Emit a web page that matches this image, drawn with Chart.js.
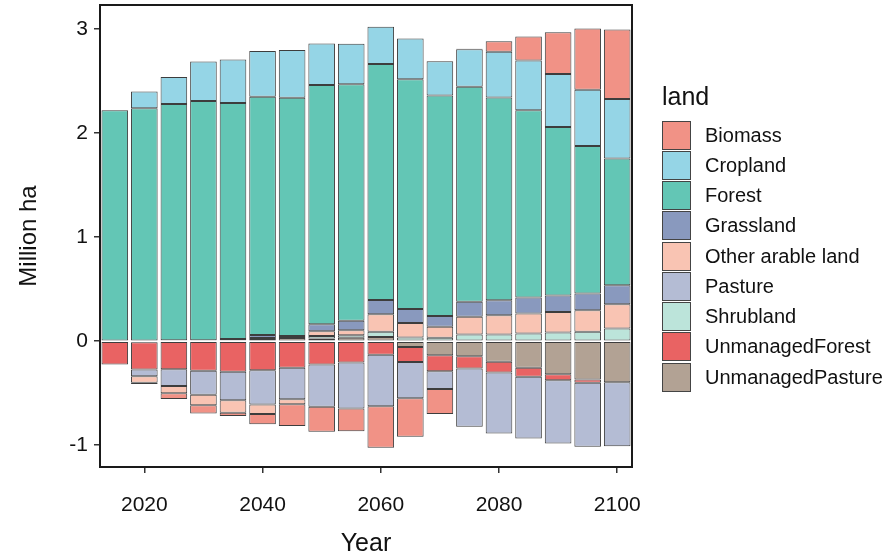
<!DOCTYPE html>
<html lang="en">
<head>
    <meta charset="UTF-8">
    <title>Land use change</title>
    <script src="https://cdn.jsdelivr.net/npm/chart.js"></script>
    <style>
        body {
            margin: 0;
            background: #fff;
            font-family: 'Liberation Sans', Arial, sans-serif;
        }
        #wrap {
            position: relative;
            width: 892px;
            height: 559px;
        }
        #legend {
            position: absolute;
            left: 662px;
            top: 82px;
            color: #111;
        }
        #legend .title {
            font-size: 25px;
            margin-bottom: 9px;
        }
        #legend .item {
            display: flex;
            align-items: center;
            height: 30.25px;
            font-size: 20px;
        }
        #legend .box {
            width: 27px;
            height: 27px;
            border: 1px solid #444;
            margin-right: 14px;
        }
    </style>
</head>
<body>
<div id="wrap">
    <canvas id="chart" width="892" height="559"></canvas>
    <div id="legend"><div class="title">land</div></div>
</div>

<script>
    // years on the x axis
    const years = [2015, 2020, 2025, 2030, 2035, 2040, 2045, 2050, 2055,
                   2060, 2065, 2070, 2075, 2080, 2085, 2090, 2095, 2100];
    const yearTicks = [2020, 2040, 2060, 2080, 2100];
    const yTicks = [-1, 0, 1, 2, 3];

    // land categories (legend order)
    const lands = ["Biomass", "Cropland", "Forest", "Grassland", "Other arable land",
                   "Pasture", "Shrubland", "UnmanagedForest", "UnmanagedPasture"];

    // values in million ha
    const biomass = [0, -0.013, -0.055, -0.08, -0.03, -0.10, -0.21, -0.24, -0.22,
                     -0.40, -0.37, -0.24, 0.005, 0.10, 0.23, 0.40, 0.59, 0.67];
    const cropland = [0, 0.16, 0.26, 0.38, 0.42, 0.44, 0.46, 0.40, 0.39,
                      0.36, 0.39, 0.33, 0.36, 0.44, 0.48, 0.51, 0.54, 0.57];
    const forest = [2.22, 2.24, 2.27, 2.30, 2.27, 2.29, 2.29, 2.30, 2.275,
                    2.27, 2.21, 2.12, 2.07, 1.95, 1.80, 1.62, 1.42, 1.22];
    const grassland = [0, 0, 0, 0, 0.01, 0.03, 0.02, 0.067, 0.09,
                       0.135, 0.135, 0.105, 0.144, 0.144, 0.154, 0.16, 0.16, 0.182];
    const otherArable = [0, -0.063, -0.07, -0.10, -0.122, -0.09, -0.048, 0.045, 0.048,
                         0.17, 0.14, 0.106, 0.17, 0.186, 0.192, 0.197, 0.208, 0.234];
    const pasture = [0, -0.065, -0.16, -0.231, -0.272, -0.33, -0.302, -0.406, -0.442,
                     -0.495, -0.35, -0.172, -0.561, -0.587, -0.593, -0.609, -0.615, -0.616];
    const shrubland = [0, 0, 0, 0, 0, 0.01, 0, 0.025, 0.026,
                       0.05, 0.035, 0.032, 0.064, 0.064, 0.074, 0.083, 0.09, 0.122];
    const unmanagedForest = [-0.224, -0.262, -0.27, -0.285, -0.295, -0.28, -0.256, -0.224, -0.205,
                             -0.13, -0.145, -0.153, -0.119, -0.102, -0.087, -0.058, -0.031, 0];
    const unmanagedPasture = [0, -0.01, 0.01, 0.01, 0.01, 0.02, 0.03, 0.026, 0.032,
                              0.04, -0.055, -0.135, -0.144, -0.199, -0.256, -0.317, -0.369, -0.394];

    const colors = {
        "Biomass": "#F19286",
        "Cropland": "#95D5E6",
        "Forest": "#63C6B5",
        "Grassland": "#8999BE",
        "Other arable land": "#F9C4B3",
        "Pasture": "#B4BCD4",
        "Shrubland": "#BCE4DA",
        "UnmanagedForest": "#E96363",
        "UnmanagedPasture": "#B2A294"
    };

    const values = {
        "Biomass": biomass,
        "Cropland": cropland,
        "Forest": forest,
        "Grassland": grassland,
        "Other arable land": otherArable,
        "Pasture": pasture,
        "Shrubland": shrubland,
        "UnmanagedForest": unmanagedForest,
        "UnmanagedPasture": unmanagedPasture
    };

    // stacking goes outward from zero, so the last legend entry comes first
    const datasets = lands.slice().reverse().map(name => ({
        label: name,
        data: values[name],
        backgroundColor: colors[name],
        borderColor: "rgba(40,40,40,0.9)",
        borderWidth: 1,
        borderSkipped: false,
        barPercentage: 0.9,
        categoryPercentage: 1
    }));

    // frame round the plot area
    const framePlugin = {
        id: "frame",
        afterDraw(chart) {
            const a = chart.chartArea;
            const c = chart.ctx;
            c.save();
            c.strokeStyle = "#1a1a1a";
            c.lineWidth = 2;
            c.strokeRect(a.left, a.top, a.right - a.left, a.bottom - a.top);
            c.restore();
        }
    };

    const font = "'Liberation Sans', Arial, sans-serif";

    new Chart(document.getElementById("chart"), {
        type: "bar",
        data: { labels: years, datasets: datasets },
        plugins: [framePlugin],
        options: {
            responsive: false,
            animation: false,
            layout: { padding: { top: 5, right: 260, left: 0, bottom: 0 } },
            plugins: { legend: { display: false }, tooltip: { enabled: false } },
            scales: {
                x: {
                    stacked: true,
                    offset: true,
                    afterBuildTicks: s => { s.ticks = s.ticks.filter(t => yearTicks.includes(years[t.value])); },
                    afterFit: s => { s.height = 92; },
                    grid: { drawOnChartArea: false, offset: false, tickLength: 6, color: "#333", lineWidth: 1.5 },
                    border: { display: false },
                    ticks: { autoSkip: false, maxRotation: 0, padding: 20, color: "#111",
                             font: { family: font, size: 21 } },
                    title: { display: true, text: "Year", color: "#111",
                             font: { family: font, size: 25 }, padding: { top: 4, bottom: 0 } }
                },
                y: {
                    stacked: true,
                    min: -1.21,
                    max: 3.233,
                    afterBuildTicks: s => { s.ticks = yTicks.map(v => ({ value: v })); },
                    afterFit: s => { s.width = 100; s.paddingTop = 0; s.paddingBottom = 0; },
                    grid: { drawOnChartArea: false, tickLength: 6, color: "#333", lineWidth: 1.5 },
                    border: { display: false },
                    ticks: { padding: 6, color: "#111",
                             font: { family: font, size: 21 } },
                    title: { display: true, text: "Million ha", color: "#111",
                             font: { family: font, size: 24 }, padding: { top: 15, bottom: 0 } }
                }
            }
        }
    });

    // legend in the same order as the reference
    const legend = document.getElementById("legend");
    lands.forEach(name => {
        const item = document.createElement("div");
        item.className = "item";
        item.innerHTML = '<div class="box" style="background:' + colors[name] + '"></div><span>' + name + '</span>';
        legend.appendChild(item);
    });
</script>
</body>
</html>
